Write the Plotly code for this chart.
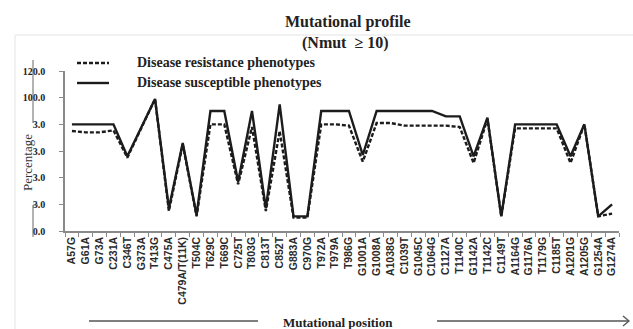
import plotly.graph_objects as go

categories = ["A57G", "G61A", "G73A", "C231A", "C346T", "G373A", "T413G", "C475A",
              "C479A/T(11K)", "T504C", "T629C", "T669C", "C725T", "T803G", "C813T",
              "C852T", "G883A", "C970G", "T972A", "T979A", "T986G", "G1001A", "G1008A",
              "A1038G", "C1039T", "G1045C", "C1064G", "C1127A", "T1140C", "G1142A",
              "T1142C", "C1149T", "A1164G", "G1176A", "T1179G", "C1185T", "A1201G",
              "A1205G", "G1254A", "G1274A"]

susceptible = [80, 80, 80, 80, 56, 78, 99, 17, 66, 12, 90, 90, 37, 90, 17, 95, 11, 11,
               90, 90, 90, 57, 90, 90, 90, 90, 90, 86, 86, 56, 85, 11, 80, 80, 80, 80,
               56, 80, 11, 20]

resistance = [75, 74, 74, 75.5, 55, 77, 99, 15, 65, 11, 80, 80, 35, 78, 15, 75, 10, 10,
              80, 80, 79, 52, 81, 81, 79, 79, 79, 79, 78, 51, 84, 11, 77, 77, 77, 77,
              51, 80, 11, 13]

y_tickvals = [0, 20, 40, 60, 80, 100, 120]
y_ticktext = ["0.0", "3.0", "3.0", "3.0", "3.0", "100.0", "120.0"]

W, H = 633, 329
L, R, T, B = 65, 14, 71, 98
PW = W - L - R
PH = H - T - B


def px(x):
    return (x - L) / PW


def py(y):
    return (H - B - y) / PH


SERIF = "Liberation Serif, Times New Roman, serif"
SANS = "Liberation Sans, Arial, sans-serif"

fig = go.Figure()
fig.add_trace(go.Scatter(x=categories, y=resistance, mode="lines",
                         line=dict(color="#1c1c1c", width=2.4, dash="4px,2px"),
                         name="Disease resistance phenotypes", showlegend=False))
fig.add_trace(go.Scatter(x=categories, y=susceptible, mode="lines",
                         line=dict(color="#1c1c1c", width=2.4),
                         name="Disease susceptible phenotypes", showlegend=False))

fig.update_layout(
    width=W, height=H, autosize=False,
    margin=dict(l=L, r=R, t=T, b=B),
    paper_bgcolor="white", plot_bgcolor="white",
    showlegend=False,
)

fig.update_xaxes(
    type="category", range=[-0.5, len(categories) - 0.5],
    showgrid=False, showline=True, linecolor="#8a8a8a", linewidth=1.5,
    ticks="outside", tickson="boundaries", ticklen=4, tickcolor="#8a8a8a",
    tickangle=-90, tickfont=dict(family=SANS, size=10.5, color="#2a2a2a", weight="bold"),
)
fig.update_yaxes(
    range=[0, 120], tickvals=y_tickvals, ticktext=y_ticktext,
    showgrid=False, showline=True, linecolor="#8a8a8a", linewidth=1.5,
    ticks="outside", ticklen=4, tickcolor="#8a8a8a", ticklabelstandoff=12,
    tickfont=dict(family=SERIF, size=10, color="#222", weight="bold"),
    zeroline=False,
)

ann = []
ann.append(dict(text="<b>Mutational profile</b>", x=px(347), y=py(22), xref="paper", yref="paper",
                showarrow=False, xanchor="center", yanchor="middle",
                font=dict(family=SERIF, size=16, color="#222")))
ann.append(dict(text="<b>(Nmut  \u2265 10)</b>", x=px(345), y=py(43), xref="paper", yref="paper",
                showarrow=False, xanchor="center", yanchor="middle",
                font=dict(family=SERIF, size=16, color="#222")))
ann.append(dict(text="<b>Disease resistance phenotypes</b>", x=px(135), y=py(62), xref="paper",
                yref="paper", showarrow=False, xanchor="left", yanchor="middle",
                font=dict(family=SERIF, size=14, color="#222")))
ann.append(dict(text="<b>Disease susceptible phenotypes</b>", x=px(135), y=py(82), xref="paper",
                yref="paper", showarrow=False, xanchor="left", yanchor="middle",
                font=dict(family=SERIF, size=14, color="#222")))
ann.append(dict(text="Percentage", x=px(27), y=py(163), xref="paper", yref="paper",
                showarrow=False, xanchor="center", yanchor="middle", textangle=-90,
                font=dict(family=SERIF, size=13, color="#333")))
ann.append(dict(text="<b>Mutational position</b>", x=px(338), y=py(322), xref="paper",
                yref="paper", showarrow=False, xanchor="center", yanchor="middle",
                font=dict(family=SERIF, size=13, color="#222")))
fig.update_layout(annotations=ann)

shapes = []
# legend samples
shapes.append(dict(type="line", xref="paper", yref="paper", x0=px(77), x1=px(109),
                   y0=py(63), y1=py(63), line=dict(color="#1c1c1c", width=2.4, dash="4px,2px")))
shapes.append(dict(type="line", xref="paper", yref="paper", x0=px(77), x1=px(109),
                   y0=py(83), y1=py(83), line=dict(color="#1c1c1c", width=2.4)))
# faint frame
shapes.append(dict(type="line", xref="paper", yref="paper", x0=px(15), x1=px(633),
                   y0=py(35), y1=py(35), line=dict(color="#e4e4e4", width=1)))
shapes.append(dict(type="line", xref="paper", yref="paper", x0=px(15), x1=px(15),
                   y0=py(35), y1=py(329), line=dict(color="#e4e4e4", width=1)))
# bracket marks near the y axis
shapes.append(dict(type="line", xref="paper", yref="paper", x0=px(33), x1=px(33),
                   y0=py(60), y1=py(123), line=dict(color="#666", width=1)))
shapes.append(dict(type="line", xref="paper", yref="paper", x0=px(33), x1=px(33),
                   y0=py(205), y1=py(237), line=dict(color="#666", width=1)))
shapes.append(dict(type="line", xref="paper", yref="paper", x0=px(33), x1=px(38),
                   y0=py(205), y1=py(205), line=dict(color="#666", width=1)))
# axis-title arrow
shapes.append(dict(type="line", xref="paper", yref="paper", x0=px(89), x1=px(258),
                   y0=py(321), y1=py(321), line=dict(color="#555", width=1.3)))
shapes.append(dict(type="line", xref="paper", yref="paper", x0=px(437), x1=px(629),
                   y0=py(321), y1=py(321), line=dict(color="#555", width=1.3)))
shapes.append(dict(type="path", xref="paper", yref="paper",
                   path=f"M {px(623)} {py(316)} L {px(629)} {py(321)} L {px(623)} {py(326)}",
                   line=dict(color="#555", width=1.3)))
fig.update_layout(shapes=shapes)

fig.write_html("out.html")
